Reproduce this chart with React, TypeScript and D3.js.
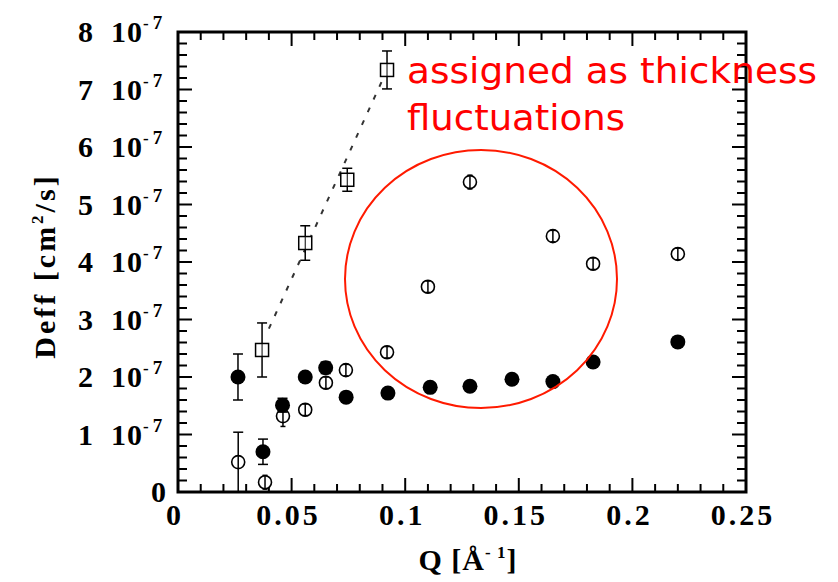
import React from "react";
import * as d3 from "d3";

// Q in Å^-1, Deff in units of 1e-7 cm^2/s
const qSquare = [0.037, 0.056, 0.0745, 0.092];
const dSquare = [2.47, 4.33, 5.43, 7.34];
const eSquare = [0.47, 0.3, 0.2, 0.33];

const qOpen = [0.0265, 0.0383, 0.0462, 0.056, 0.0651, 0.0739, 0.092, 0.11, 0.1285, 0.165, 0.1827, 0.22];
const dOpen = [0.52, 0.17, 1.32, 1.43, 1.9, 2.12, 2.43, 3.57, 5.39, 4.45, 3.97, 4.14];
const eOpen = [0.52, 0.12, 0.18, 0.1, 0.1, 0.1, 0.1, 0.1, 0.12, 0.1, 0.1, 0.1];

const qFilled = [0.0264, 0.0374, 0.046, 0.056, 0.065, 0.074, 0.0924, 0.111, 0.1285, 0.147, 0.165, 0.1827, 0.22];
const dFilled = [2.0, 0.7, 1.51, 2.0, 2.16, 1.65, 1.72, 1.82, 1.84, 1.96, 1.92, 2.26, 2.61];
const eFilled = [0.4, 0.22, 0.12, 0, 0.1, 0, 0, 0, 0, 0, 0, 0, 0];

const qFit = [0.04, 0.092];
const dFit = [2.84, 7.34];

const xTicks = [0, 0.05, 0.1, 0.15, 0.2, 0.25];
const xTickLabels = ["0", "0.05", "0.1", "0.15", "0.2", "0.25"];
const yTicks = [0, 1, 2, 3, 4, 5, 6, 7, 8];

const annotationLines = ["assigned as thickness", "fluctuations"];

export default function App() {
  const W = 838, H = 582;
  const x = d3.scaleLinear().domain([0, 0.25]).range([178, 746]);
  const y = d3.scaleLinear().domain([0, 8]).range([492, 32]);
  const [x0, x1] = x.range();
  const [y0, y1] = y.range();

  const xMinor = d3.range(0, 0.2501, 0.01);
  const yMinor = d3.range(0, 8.001, 0.2);
  const isMajorX = (v: number) => Math.abs(v / 0.05 - Math.round(v / 0.05)) < 1e-6;
  const isMajorY = (v: number) => Math.abs(v - Math.round(v)) < 1e-6;

  const serif = "'Liberation Serif', 'Times New Roman', serif";
  const line = d3.line<number>().x((_, i) => x(qFit[i])).y((d) => y(d));

  const errBar = (cx: number, v: number, e: number, key: string, cap = 5) => {
    if (!e) return null;
    const ya = y(v + e), yb = y(Math.max(0, v - e));
    return (
      <g key={key} stroke="#000" strokeWidth={1.5}>
        <line x1={cx} x2={cx} y1={ya} y2={yb} />
        <line x1={cx - cap} x2={cx + cap} y1={ya} y2={ya} />
        <line x1={cx - cap} x2={cx + cap} y1={yb} y2={yb} />
      </g>
    );
  };

  return (
    <svg width={W} height={H} style={{ position: "absolute", left: 0, top: 0, background: "#fff" }}>
      <rect x={0} y={0} width={W} height={H} fill="#fff" />
      {/* ticks */}
      <g stroke="#000" strokeWidth={2}>
        {xMinor.map((v, i) => {
          const L = isMajorX(v) ? 14 : 8;
          return (
            <g key={"xt" + i}>
              <line x1={x(v)} x2={x(v)} y1={y0} y2={y0 - L} />
              <line x1={x(v)} x2={x(v)} y1={y1} y2={y1 + L} />
            </g>
          );
        })}
        {yMinor.map((v, i) => {
          const L = isMajorY(v) ? 14 : 9;
          return (
            <g key={"yt" + i}>
              <line x1={x0} x2={x0 + L} y1={y(v)} y2={y(v)} />
              <line x1={x1} x2={x1 - L} y1={y(v)} y2={y(v)} />
            </g>
          );
        })}
      </g>
      <rect x={x0} y={y1} width={x1 - x0} height={y0 - y1} fill="none" stroke="#000" strokeWidth={3} />

      {/* tick labels */}
      <g fontFamily={serif} fontWeight="bold" fontSize={30} fill="#000">
        {xTicks.map((v, i) => (
          <text key={"xl" + i} x={x(v) - 3} y={525} textAnchor="middle" letterSpacing={3}>
            {xTickLabels[i]}
          </text>
        ))}
        {yTicks.map((v) =>
          v === 0 ? (
            <text key={"yl" + v} x={166} y={y(v) + 10} textAnchor="end">0</text>
          ) : (
            <g key={"yl" + v}>
              <text x={93} y={y(v) + 10} textAnchor="end">{v}</text>
              <text x={111} y={y(v) + 10} letterSpacing={1}>
                10
                <tspan dy={-13} fontSize={17}>-</tspan>
                <tspan dx={3} fontSize={19}>7</tspan>
              </text>
            </g>
          )
        )}
        <text x={468} y={570} textAnchor="middle" letterSpacing={1}>
          Q [Å<tspan dy={-12} fontSize={17}>- 1</tspan><tspan dy={12}>]</tspan>
        </text>
        <text transform="translate(55,266) rotate(-90)" textAnchor="middle" letterSpacing={3}>
          Deff  [cm<tspan dy={-12} fontSize={17}>2</tspan><tspan dy={12}>/s]</tspan>
        </text>
      </g>

      {/* fit line */}
      <path d={line(dFit) || ""} fill="none" stroke="#333" strokeWidth={2} strokeDasharray="5,9" />

      {/* open squares */}
      {qSquare.map((q, i) => errBar(x(q), dSquare[i], eSquare[i], "es" + i))}
      {qSquare.map((q, i) => (
        <rect key={"s" + i} x={x(q) - 6.5} y={y(dSquare[i]) - 6.5} width={13} height={13} fill="#fff" stroke="#000" strokeWidth={1.5} />
      ))}
      {qSquare.map((q, i) => (
        <line key={"sl" + i} x1={x(q)} x2={x(q)} y1={y(dSquare[i]) - 6.5} y2={y(dSquare[i]) + 6.5} stroke="#000" strokeWidth={1} />
      ))}

      {/* open circles */}
      {qOpen.map((q, i) => (
        <g key={"o" + i}>
          <circle cx={x(q)} cy={y(dOpen[i])} r={6.5} fill="#fff" stroke="#000" strokeWidth={1.6} />
          {errBar(x(q), dOpen[i], eOpen[i], "eo" + i, eOpen[i] > 0.3 ? 5 : 2.5)}
        </g>
      ))}

      {/* filled circles */}
      {qFilled.map((q, i) => errBar(x(q), dFilled[i], eFilled[i], "ef" + i))}
      {qFilled.map((q, i) => (
        <circle key={"f" + i} cx={x(q)} cy={y(dFilled[i])} r={7.5} fill="#000" />
      ))}

      {/* annotation */}
      <ellipse cx={481} cy={279} rx={136} ry={129} fill="none" stroke="#ff1a00" strokeWidth={2} />
      <g fill="#ff0000" fontFamily="'DejaVu Sans', sans-serif" fontSize={35}>
        <text x={407} y={83} textLength={410} lengthAdjust="spacingAndGlyphs">{annotationLines[0]}</text>
        <text x={407} y={130} textLength={218} lengthAdjust="spacingAndGlyphs">{annotationLines[1]}</text>
      </g>
    </svg>
  );
}
